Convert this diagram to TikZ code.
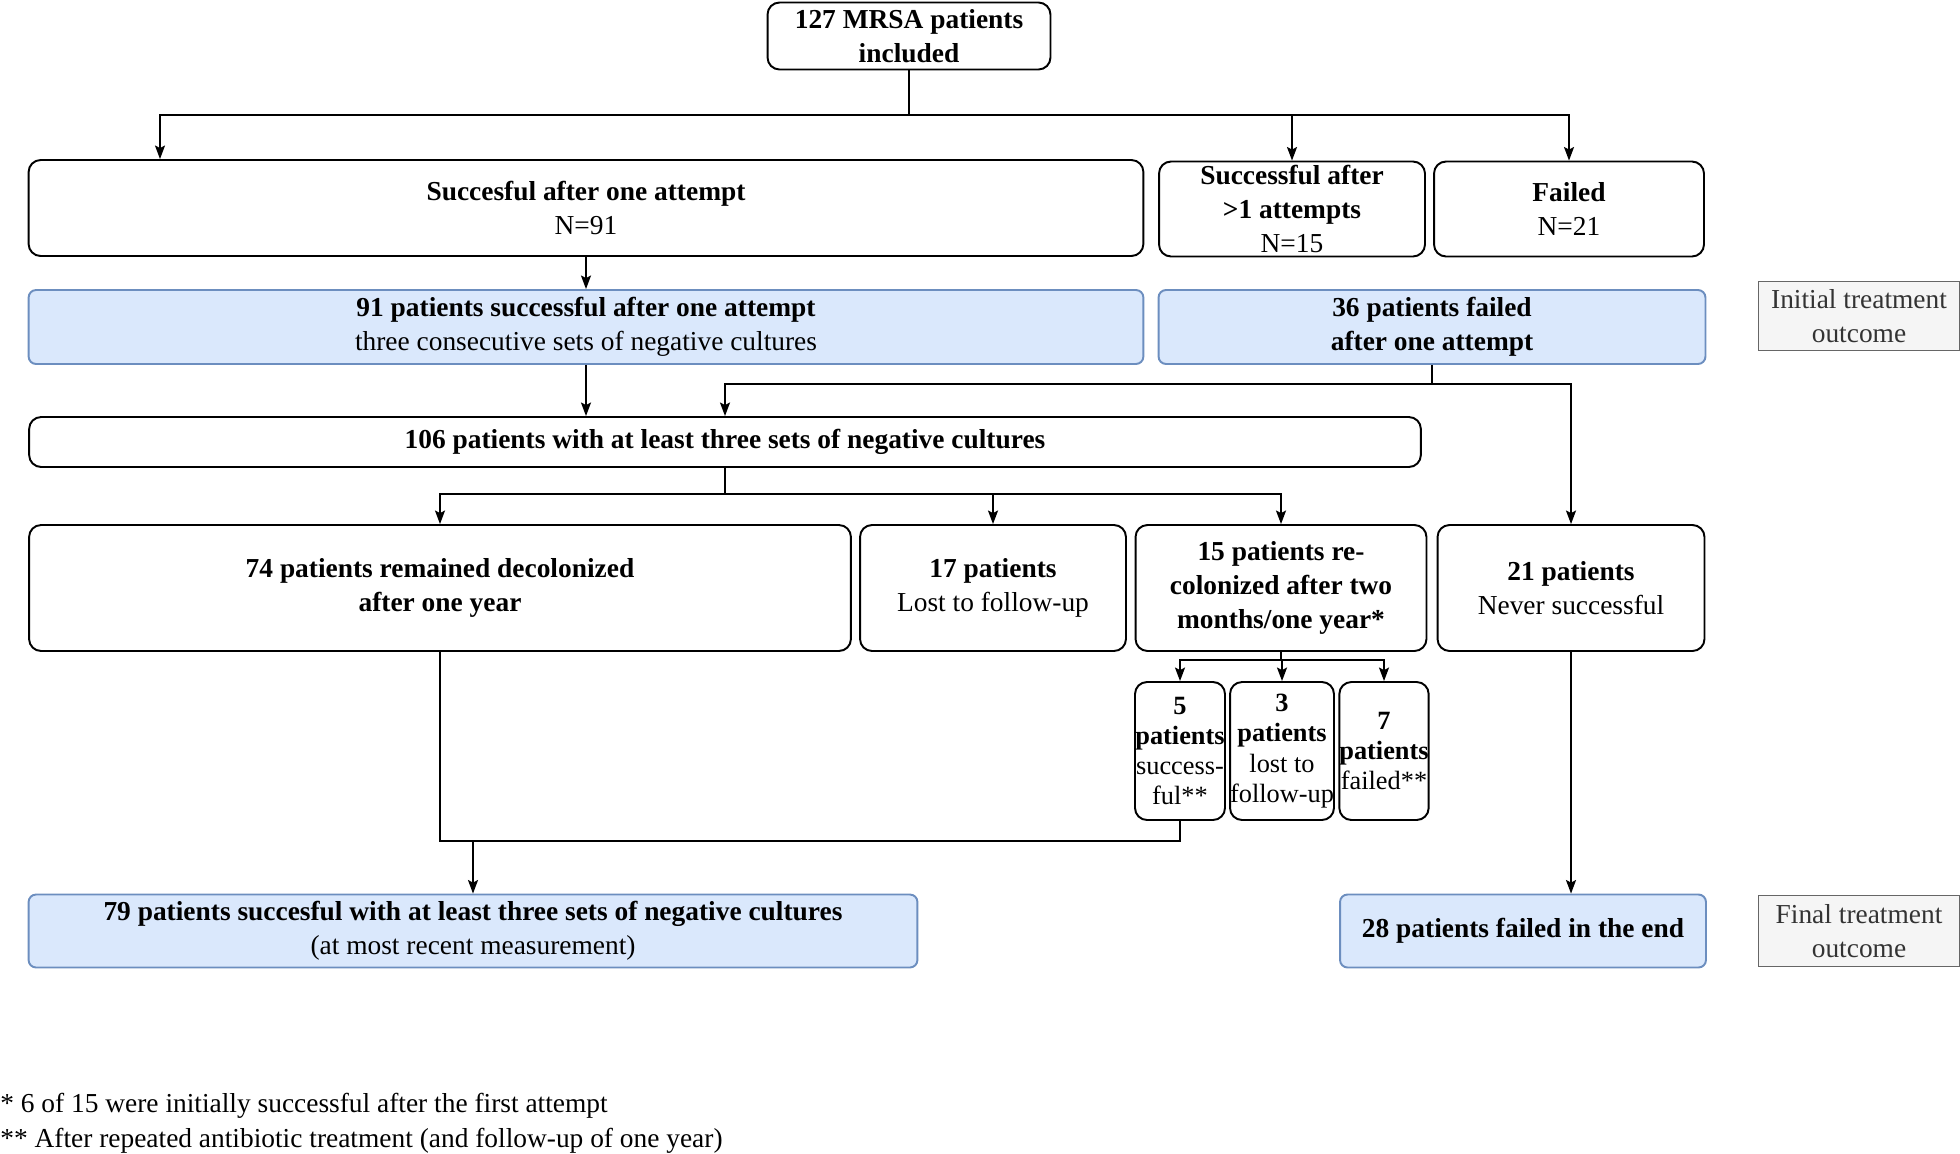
\documentclass[tikz,border=0pt]{standalone}
\usepackage{fontspec}
\setmainfont{LiberationSerif}[Extension=.ttf,UprightFont=*-Regular,BoldFont=*-Bold,ItalicFont=*-Italic,BoldItalicFont=*-BoldItalic]
\usetikzlibrary{arrows.meta}
\definecolor{stepfill}{HTML}{DAE8FC}
\definecolor{stepline}{HTML}{6C8EBF}
\definecolor{notefill}{HTML}{F5F5F5}
\definecolor{noteline}{HTML}{666666}
\definecolor{notetext}{HTML}{333333}
\begin{document}
\begin{tikzpicture}[x=0.02cm,y=-0.02cm,
  every node/.style={font=\fontsize{15.6}{19.2}\selectfont,align=center,inner sep=0pt},
  flowbox/.style={draw,line width=1.1pt,rounded corners=0.24cm},
  smallbox/.style={flowbox,font=\fontsize{15}{17.2}\selectfont},
  outbox/.style={draw=stepline,fill=stepfill,line width=1.1pt,rounded corners=0.15cm},
  notebox/.style={draw=noteline,fill=notefill,text=notetext,line width=0.9pt},
  conn/.style={line width=0.9pt},
  arr/.style={conn,-{Stealth[length=0.27cm,width=0.2cm,inset=0.05cm]}}]
\useasboundingbox (0,0) rectangle (1960,1153);
\node[flowbox,minimum width=5.66cm,minimum height=1.34cm] (top) at (909,36) {\textbf{127 MRSA patients}\\\textbf{included}};
\node[flowbox,minimum width=22.3cm,minimum height=1.92cm] (s1) at (586,208) {\textbf{Succesful after one attempt}\\N=91};
\node[flowbox,minimum width=5.32cm,minimum height=1.9cm] (s2) at (1292,209) {\textbf{Successful after}\\\textbf{>1 attempts}\\N=15};
\node[flowbox,minimum width=5.4cm,minimum height=1.9cm] (s3) at (1569,209) {\textbf{Failed}\\N=21};
\node[outbox,minimum width=22.3cm,minimum height=1.48cm] (g1) at (586,327) {\textbf{91 patients successful after one attempt}\\three consecutive sets of negative cultures};
\node[outbox,minimum width=10.94cm,minimum height=1.48cm] (g2) at (1432,327) {\textbf{36 patients failed}\\\textbf{after one attempt}};
\node[notebox,minimum width=4.02cm,minimum height=1.38cm] (lab1) at (1859,316) {Initial treatment\\outcome};
\node[flowbox,minimum width=27.84cm,minimum height=1.0cm] (n106) at (725,442) {\textbf{106 patients with at least three sets of negative cultures}};
\node[flowbox,minimum width=16.44cm,minimum height=2.52cm] (r1) at (440,588) {\textbf{74 patients remained decolonized}\\\textbf{after one year}};
\node[flowbox,minimum width=5.32cm,minimum height=2.52cm] (r2) at (993,588) {\textbf{17 patients}\\Lost to follow-up};
\node[flowbox,minimum width=5.82cm,minimum height=2.52cm] (r3) at (1281,588) {\textbf{15 patients re-}\\\textbf{colonized after two}\\\textbf{months/one year*}};
\node[flowbox,minimum width=5.34cm,minimum height=2.52cm] (r4) at (1571,588) {\textbf{21 patients}\\Never successful};
\node[smallbox,minimum width=1.8cm,minimum height=2.76cm] (t1) at (1180,751) {\textbf{5}\\\textbf{patients}\\success-\\ful**};
\node[smallbox,minimum width=2.04cm,minimum height=2.76cm] (t2) at (1282,751) {\textbf{3}\\\textbf{patients}\\lost to\\follow-up};
\node[smallbox,minimum width=1.76cm,minimum height=2.76cm] (t3) at (1384,751) {\textbf{7}\\\textbf{patients}\\failed**};
\node[outbox,minimum width=17.78cm,minimum height=1.46cm] (f1) at (473,931) {\textbf{79 patients succesful with at least three sets of negative cultures}\\(at most recent measurement)};
\node[outbox,minimum width=7.32cm,minimum height=1.46cm] (f2) at (1523,931) {\textbf{28 patients failed in the end}};
\node[notebox,minimum width=4.02cm,minimum height=1.42cm] (lab2) at (1859,931) {Final treatment\\outcome};
\node[anchor=west] (note1) at (0,1106) {* 6 of 15 were initially successful after the first attempt};
\node[anchor=west] (note2) at (0,1141) {** After repeated antibiotic treatment (and follow-up of one year)};
\coordinate (j1) at (909,115);
\coordinate (a1) at (160,115);
\coordinate (j2) at (1432,384);
\coordinate (j3) at (725,494);
\coordinate (j4) at (1281,660);
\coordinate (j5) at (440,841);
\draw[conn] (top) -- (j1);
\draw[arr] (j1) -| (a1 |- s1.north);
\draw[arr] (j1) -| (s2);
\draw[arr] (j1) -| (s3);
\draw[arr] (s1) -- (g1);
\draw[arr] (g1) -- (g1 |- n106.north);
\draw[conn] (g2) -- (j2);
\draw[arr] (j2) -| (n106);
\draw[arr] (j2) -| (r4);
\draw[conn] (n106) -- (j3);
\draw[arr] (j3) -| (r1);
\draw[arr] (j3) -| (r2);
\draw[arr] (j3) -| (r3);
\draw[conn] (r3) -- (j4);
\draw[arr] (j4) -| (t1);
\draw[arr] (j4) -| (t2);
\draw[arr] (j4) -| (t3);
\draw[conn] (r1) -- (j5) -| (t1);
\draw[arr] (j5 -| f1) -- (f1);
\draw[arr] (r4) -- (r4 |- f2.north);
\end{tikzpicture}
\end{document}
